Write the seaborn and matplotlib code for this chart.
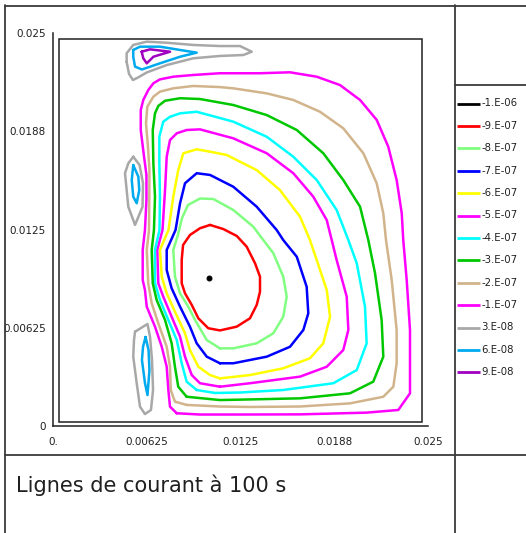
import numpy as np
import pandas as pd
import matplotlib
matplotlib.use("Agg")
import matplotlib.pyplot as plt
from matplotlib.lines import Line2D
from matplotlib.patches import Rectangle
import seaborn as sns

# ---------------- data: iso-lines of the stream function -------------
# positions in mm, levels in units of 1e-8 m2/s
levels = [-100, -90, -80, -70, -60, -50, -40, -30, -20, -10, 3, 6, 9]
legend_labels = ["-1.E-06", "-9.E-07", "-8.E-07", "-7.E-07", "-6.E-07", "-5.E-07",
                 "-4.E-07", "-3.E-07", "-2.E-07", "-1.E-07", "3.E-08", "6.E-08", "9.E-08"]
level_colors = ["#000000", "#ff0000", "#80ff80", "#0000ff", "#ffff00", "#ff00ff",
                "#00ffff", "#00c800", "#d2b48c", "#ff00ff", "#a8a8a8", "#00aaee", "#a000c0"]

tick_values = [0, 0.00625, 0.0125, 0.01875, 0.025]
x_tick_labels = ["0.", "0.00625", "0.0125", "0.0188", "0.025"]
y_tick_labels = ["0", "0.00625", "0.0125", "0.0188", "0.025"]
title_text = "Lignes de courant à 100 s"

# cavity walls (mm)
domain_x = [0.4, 24.6]
domain_y = [0.25, 24.62]

x_n10 = [8.25, 7.80, 7.69, 7.58, 7.25, 6.80, 6.25, 6.13, 5.98, 5.98, 6.13, 6.23, 6.23, 6.07, 5.85,
         5.85, 6.02, 6.35, 6.69, 7.13, 8.02, 9.35, 11.13, 13.80, 15.80, 17.58, 19.13, 20.47, 21.58,
         22.35, 22.91, 23.25, 23.35, 23.58, 23.80, 23.80, 23.02, 20.91, 16.47, 12.47, 9.80]
y_n10 = [0.81, 1.23, 2.29, 3.77, 5.04, 6.32, 7.59, 8.65, 9.29, 11.20, 12.47, 14.38, 15.97, 17.13, 18.83,
         20.10, 20.74, 21.37, 21.80, 22.05, 22.22, 22.33, 22.44, 22.44, 22.50, 22.22, 21.69, 20.74, 19.47,
         17.77, 15.65, 13.53, 11.83, 9.29, 6.11, 2.08, 1.02, 0.85, 0.74, 0.73, 0.73]

x_n20 = [8.91, 8.13, 7.85, 7.80, 7.58, 7.02, 6.58, 6.35, 6.25, 6.40, 6.42, 6.43, 6.33, 6.20,
         6.29, 6.69, 7.13, 8.02, 9.35, 11.13, 12.02, 14.25, 16.02, 17.80, 19.35, 20.69, 21.58, 22.02,
         22.20, 22.58, 22.91, 22.91, 22.69, 22.02, 19.80, 16.47, 13.13, 11.13]
y_n20 = [1.34, 1.55, 2.29, 3.77, 5.04, 6.53, 7.81, 9.08, 11.20, 12.47, 14.59, 16.28, 17.77, 19.26,
         20.31, 20.95, 21.27, 21.48, 21.63, 21.56, 21.48, 21.16, 20.74, 19.99, 18.94, 17.35, 15.44, 13.53,
         11.83, 9.29, 6.11, 3.99, 2.50, 1.86, 1.44, 1.24, 1.21, 1.24]

x_n30 = [8.91, 8.35, 8.13, 7.91, 7.47, 6.91, 6.65, 6.58, 6.73, 6.80, 6.69, 6.65, 6.80, 7.02, 7.47,
         8.47, 9.80, 12.02, 14.25, 16.25, 18.02, 19.35, 20.47, 21.02, 21.47, 21.91, 22.02, 21.35, 19.80,
         16.47, 13.13, 11.13]
y_n30 = [1.86, 2.50, 3.77, 5.26, 6.74, 8.02, 9.08, 11.20, 12.47, 14.59, 16.71, 18.83, 19.89, 20.36, 20.69,
         20.85, 20.80, 20.42, 19.78, 18.83, 17.35, 15.65, 13.95, 11.83, 9.71, 6.74, 4.41, 2.82, 2.08,
         1.76, 1.69, 1.65]

x_n40 = [9.58, 8.91, 8.58, 8.25, 7.69, 7.13, 6.80, 6.80, 7.10, 7.13, 7.09, 7.09, 7.35, 7.80, 8.47,
         9.58, 12.02, 14.25, 16.02, 17.58, 18.91, 19.69, 20.25, 20.80, 20.91, 20.25, 18.69, 15.35, 12.47,
         10.80]
y_n40 = [2.29, 2.82, 3.99, 5.47, 6.74, 8.02, 9.08, 11.20, 12.47, 14.59, 16.71, 18.40, 19.36, 19.67, 19.89,
         19.99, 19.36, 18.40, 17.13, 15.65, 13.74, 11.83, 10.35, 7.59, 5.26, 3.56, 2.72, 2.29, 2.13,
         2.10]

x_n50 = [11.13, 9.80, 9.25, 8.80, 8.47, 7.91, 7.35, 7.02, 6.95, 7.30, 7.47, 7.58, 7.80, 8.25, 8.91,
         9.80, 12.02, 14.25, 16.02, 17.35, 18.25, 18.58, 18.91, 19.58, 19.69, 19.35, 18.25, 16.47, 13.13]
y_n50 = [2.50, 2.72, 3.24, 4.41, 5.68, 6.95, 8.23, 9.08, 11.20, 12.47, 15.01, 17.13, 18.19, 18.62, 18.83,
         18.87, 18.30, 17.35, 16.08, 14.59, 13.10, 11.83, 10.56, 8.23, 6.11, 4.83, 3.77, 3.14, 2.72]

x_n60 = [11.13, 10.47, 9.69, 9.13, 8.80, 8.13, 7.58, 7.25, 7.13, 7.70, 8.02, 8.35, 8.69, 9.58, 10.47,
         11.58, 13.58, 15.13, 16.47, 17.13, 17.58, 18.25, 18.47, 18.02, 17.13, 15.35, 13.13]
y_n60 = [3.03, 3.24, 3.77, 4.83, 5.90, 7.27, 8.44, 9.50, 11.20, 12.47, 14.59, 16.28, 17.35, 17.60, 17.45,
         17.24, 16.28, 15.01, 13.31, 11.83, 10.56, 8.65, 6.95, 5.26, 4.31, 3.67, 3.24]

x_n70 = [11.13, 10.25, 9.58, 9.13, 8.47, 7.91, 7.58, 7.58, 8.17, 8.47, 8.80, 9.58, 10.47, 12.02, 13.58,
         14.91, 15.35, 16.25, 16.91, 17.02, 16.69, 15.80, 14.25, 12.02]
y_n70 = [3.99, 4.41, 5.26, 6.32, 7.59, 8.76, 9.92, 11.20, 12.47, 14.17, 15.44, 16.08, 15.97, 15.22, 13.95,
         12.47, 11.83, 10.77, 8.86, 7.17, 6.11, 5.04, 4.41, 3.99]

x_n80 = [11.13, 10.25, 9.47, 9.02, 8.47, 8.13, 8.02, 8.33, 8.60, 9.00, 9.80, 10.69, 12.02, 13.35, 14.02,
         14.69, 15.35, 15.58, 15.35, 14.69, 13.58, 12.02]
y_n80 = [4.94, 5.47, 6.74, 7.59, 8.44, 9.50, 11.20, 12.15, 13.23, 14.06, 14.47, 14.44, 13.74, 12.68, 11.83,
         10.99, 9.50, 8.23, 6.95, 5.90, 5.26, 4.94]

x_n90 = [10.47, 9.80, 9.13, 8.67, 8.58, 8.58, 8.80, 9.25, 9.69, 10.35, 11.13, 12.25, 13.13, 13.58, 13.80,
         13.80, 13.47, 12.91, 12.25, 11.35]
y_n90 = [12.79, 12.58, 12.15, 11.51, 10.56, 9.08, 8.44, 7.70, 6.85, 6.22, 6.08, 6.32, 6.85, 7.70, 8.54,
         9.50, 10.35, 11.41, 12.09, 12.53]

# vortex core (psi min, just below -1.E-06)
x_core = [10.43]
y_core = [9.41]

# secondary cells along the left wall
x_top_p3 = [4.91, 4.91, 5.35, 6.25, 7.58, 9.35, 11.13, 12.47, 13.25, 12.69, 11.13, 9.35, 7.58, 6.25, 5.67, 5.33, 5.07]
y_top_p3 = [23.16, 23.71, 24.24, 24.45, 24.38, 24.24, 24.17, 24.17, 23.81, 23.60, 23.54, 23.39, 22.96, 22.49, 22.17, 22.01, 22.39]
x_top_p6 = [5.35, 5.80, 7.13, 8.47, 9.58, 8.47, 7.13, 5.93, 5.47, 5.35]
y_top_p6 = [23.92, 24.13, 24.13, 23.92, 23.75, 23.49, 23.07, 22.68, 22.86, 23.49]
x_top_p9 = [5.91, 6.47, 7.80, 6.69, 6.25, 6.02]
y_top_p9 = [23.81, 23.96, 23.81, 23.49, 23.07, 23.39]

x_mid_p3 = [5.35, 5.77, 6.00, 5.97, 5.47, 5.02, 4.80, 5.02]
y_mid_p3 = [17.13, 16.60, 15.44, 13.95, 12.79, 13.95, 16.08, 16.71]
x_mid_p6 = [5.35, 5.69, 5.75, 5.58, 5.35, 5.25]
y_mid_p6 = [16.60, 15.86, 15.01, 14.17, 14.59, 15.65]

x_bot_p3 = [5.47, 6.30, 6.47, 6.60, 6.67, 6.53, 6.13, 5.80, 5.58, 5.35, 5.40]
y_bot_p3 = [6.00, 6.49, 5.66, 4.20, 2.29, 1.02, 0.76, 1.23, 2.72, 4.41, 5.47]
x_bot_p6 = [6.17, 6.37, 6.43, 6.30, 6.13, 5.93, 6.00]
y_bot_p6 = [5.66, 4.83, 3.56, 1.97, 2.74, 4.20, 5.03]

# ---------------- long-form table of the iso-lines ----------------
isolines = [(-10, x_n10, y_n10), (-20, x_n20, y_n20), (-30, x_n30, y_n30), (-40, x_n40, y_n40),
            (-50, x_n50, y_n50), (-60, x_n60, y_n60), (-70, x_n70, y_n70), (-80, x_n80, y_n80),
            (-90, x_n90, y_n90),
            (3, x_top_p3, y_top_p3), (6, x_top_p6, y_top_p6), (9, x_top_p9, y_top_p9),
            (3, x_mid_p3, y_mid_p3), (6, x_mid_p6, y_mid_p6),
            (3, x_bot_p3, y_bot_p3), (6, x_bot_p6, y_bot_p6)]
rows = []
for loop_id, (lev, xs, ys) in enumerate(isolines):
    xs_closed = list(xs) + [xs[0]]
    ys_closed = list(ys) + [ys[0]]
    for k, (xv, yv) in enumerate(zip(xs_closed, ys_closed)):
        rows.append({"loop": loop_id, "order": k, "level": lev, "x": xv / 1000.0, "y": yv / 1000.0})
df = pd.DataFrame(rows)
palette = dict(zip(levels, level_colors))

# ---------------- figure ----------------
sns.set_theme(style="white")
plt.rcParams['font.family'] = ['DejaVu Sans']

W, H = 526, 533
fig = plt.figure(figsize=(W / 100, H / 100), dpi=100)
fig.patch.set_facecolor("white")

def fx(p):
    return p / W

def fy(p):
    return 1 - p / H

frame_kw = dict(transform=fig.transFigure, color="#3a3a3a", lw=1.3)
fig.add_artist(Line2D([fx(5), fx(5)], [fy(5), fy(533)], **frame_kw))
fig.add_artist(Line2D([fx(5), fx(526)], [fy(5.5), fy(5.5)], **frame_kw))
fig.add_artist(Line2D([fx(455), fx(455)], [fy(5), fy(533)], **frame_kw))
fig.add_artist(Line2D([fx(5), fx(526)], [fy(455), fy(455)], **frame_kw))
fig.add_artist(Line2D([fx(455), fx(526)], [fy(85), fy(85)], **frame_kw))

ax = fig.add_axes([fx(53), fy(426), 375 / W, 393 / H])
ax.set_facecolor("none")

sns.lineplot(data=df, x="x", y="y", hue="level", units="loop", estimator=None, sort=False,
             palette=palette, legend=False, linewidth=1.8, ax=ax)
sns.scatterplot(x=[v / 1000.0 for v in x_core], y=[v / 1000.0 for v in y_core], color="black",
                s=12, edgecolor="black", linewidth=0.8, legend=False, ax=ax, zorder=4)

x0, x1 = [v / 1000.0 for v in domain_x]
y0, y1 = [v / 1000.0 for v in domain_y]
ax.add_patch(Rectangle((x0, y0), x1 - x0, y1 - y0, fill=False, ec="#202020", lw=1.1, zorder=3))

ax.set_xlim(0, 0.025)
ax.set_ylim(0, 0.025)
ax.set_xlabel("")
ax.set_ylabel("")

sns.despine(ax=ax, top=True, right=True)
for s in ("left", "bottom"):
    ax.spines[s].set_color("#202020")
    ax.spines[s].set_linewidth(1.1)

ax.set_xticks(tick_values)
ax.set_yticks(tick_values)
ax.set_xticklabels(x_tick_labels)
ax.set_yticklabels(y_tick_labels)
minor = [v + k * 0.0015625 for v in tick_values[:-1] for k in (1, 2, 3)]
ax.set_xticks(minor, minor=True)
ax.set_yticks(minor, minor=True)
ax.tick_params(axis="x", which="major", direction="out", length=7, width=1.1, color="#202020",
               labelsize=7.5, pad=1, labelcolor="#202020")
ax.tick_params(axis="x", which="minor", direction="out", length=4, width=1.1, color="#202020")
ax.tick_params(axis="y", which="major", direction="out", length=4, width=1.1, color="#202020",
               labelsize=7.5, pad=1, labelcolor="#202020")
ax.tick_params(axis="y", which="minor", direction="in", length=3, width=1.1, color="#202020")
ax.grid(False)

# legend panel
lax = fig.add_axes([fx(455), fy(533), 71 / W, 533 / H])
lax.set_axis_off()
lax.set_xlim(455, 526)
lax.set_ylim(533, 0)
y_first, step = 103.5, 22.4
for i, (lab, col) in enumerate(zip(legend_labels, level_colors)):
    yy = y_first + i * step
    lax.plot([457, 480], [yy, yy], color=col, lw=2.0, solid_capstyle="butt")
    lax.text(481, yy, lab, fontsize=7.3, va="center", ha="left", color="#202020")

fig.text(fx(16), fy(492), title_text, fontsize=15, ha="left", va="baseline", color="#202020")

fig.savefig("out.png", dpi=100)
